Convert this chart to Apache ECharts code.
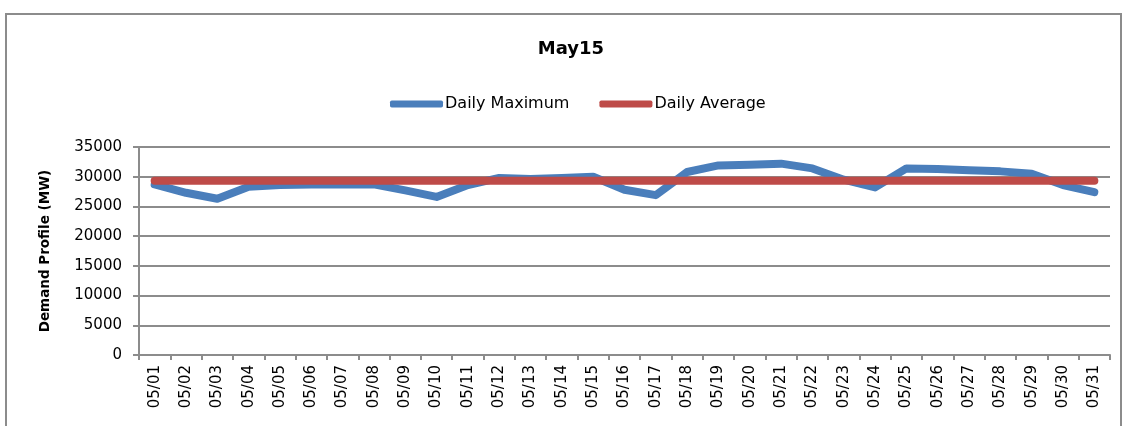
<!DOCTYPE html>
<html>
<head>
<meta charset="utf-8">
<script src="https://cdn.jsdelivr.net/npm/echarts@6/dist/echarts.min.js"></script>
<style>
  html, body { margin: 0; padding: 0; background: #fff; }
  #chart { width: 1127px; height: 426px; }
</style>
</head>
<body>
<div id="chart"></div>
<script>
// Daily demand for May, in MW
const days = ['05/01','05/02','05/03','05/04','05/05','05/06','05/07','05/08','05/09','05/10',
              '05/11','05/12','05/13','05/14','05/15','05/16','05/17','05/18','05/19','05/20',
              '05/21','05/22','05/23','05/24','05/25','05/26','05/27','05/28','05/29','05/30','05/31'];
const dailyMaximum = [28700, 27300, 26300, 28300, 28600, 28700, 28700, 28700, 27700, 26600,
                      28600, 29800, 29600, 29800, 30000, 27800, 26900, 30800, 31900, 32000,
                      32200, 31400, 29500, 28200, 31400, 31300, 31100, 30900, 30500, 28600, 27400];
const dailyAverage = [29300, 29300, 29300, 29300, 29300, 29300, 29300, 29300, 29300, 29300,
                      29300, 29300, 29300, 29300, 29300, 29300, 29300, 29300, 29300, 29300,
                      29300, 29300, 29300, 29300, 29300, 29300, 29300, 29300, 29300, 29300, 29300];
const yTicks = [0, 5000, 10000, 15000, 20000, 25000, 30000, 35000];

const FONT = 'DejaVu Sans';
const GRID_COLOR = '#8c8c8c';

const chart = echarts.init(document.getElementById('chart'));
chart.setOption({
  backgroundColor: '#fff',
  animation: false,
  textStyle: { fontFamily: FONT, color: '#000' },
  graphic: [
    {
      type: 'rect',
      shape: { x: 6, y: 14, width: 1115, height: 420 },
      style: { fill: 'none', stroke: '#8c8c8c', lineWidth: 2 },
      silent: true
    },
    {
      type: 'text',
      x: 571,
      y: 49,
      style: {
        text: 'May15',
        font: 'bold 18px "DejaVu Sans"',
        fill: '#000',
        align: 'center',
        verticalAlign: 'middle'
      },
      silent: true
    }
  ],
  legend: {
    top: 91,
    left: 385,
    itemWidth: 53,
    itemHeight: 7,
    itemGap: 30,
    icon: 'roundRect',
    textStyle: { fontFamily: FONT, fontSize: 16, color: '#000', padding: [0, 0, 0, -3] },
    data: ['Daily Maximum', 'Daily Average']
  },
  grid: {
    left: 139, right: 17, top: 147, bottom: 71,
    containLabel: false,
    outerBoundsMode: 'none'
  },
  xAxis: {
    type: 'category',
    data: days,
    boundaryGap: true,
    axisLine: { lineStyle: { color: GRID_COLOR, width: 2 } },
    axisTick: { show: true, length: 5, lineStyle: { color: GRID_COLOR, width: 2 } },
    axisLabel: { rotate: 90, interval: 0, margin: 10, fontFamily: FONT, fontSize: 15, color: '#000' },
    splitLine: { show: false }
  },
  yAxis: {
    type: 'value',
    min: yTicks[0],
    max: yTicks[yTicks.length - 1],
    interval: 5000,
    name: 'Demand Profile (MW)',
    nameLocation: 'middle',
    nameGap: 87,
    nameTextStyle: { fontFamily: FONT, fontSize: 13.5, fontWeight: 'bold', color: '#000' },
    axisLine: { show: true, lineStyle: { color: GRID_COLOR, width: 2 } },
    axisTick: { show: true, length: 6, lineStyle: { color: GRID_COLOR, width: 2 } },
    axisLabel: {
      margin: 17, fontFamily: FONT, fontSize: 15, color: '#000',
      formatter: (v) => String(v)
    },
    splitLine: { show: true, lineStyle: { color: GRID_COLOR, width: 2 } }
  },
  series: [
    {
      name: 'Daily Maximum',
      type: 'line',
      data: dailyMaximum,
      symbol: 'none',
      itemStyle: { color: '#4a7ebb' },
      lineStyle: { color: '#4a7ebb', width: 8, cap: 'round', join: 'round' }
    },
    {
      name: 'Daily Average',
      type: 'line',
      data: dailyAverage,
      symbol: 'none',
      itemStyle: { color: '#be4b48' },
      lineStyle: { color: '#be4b48', width: 8, cap: 'round', join: 'round' }
    }
  ]
});
</script>
</body>
</html>
